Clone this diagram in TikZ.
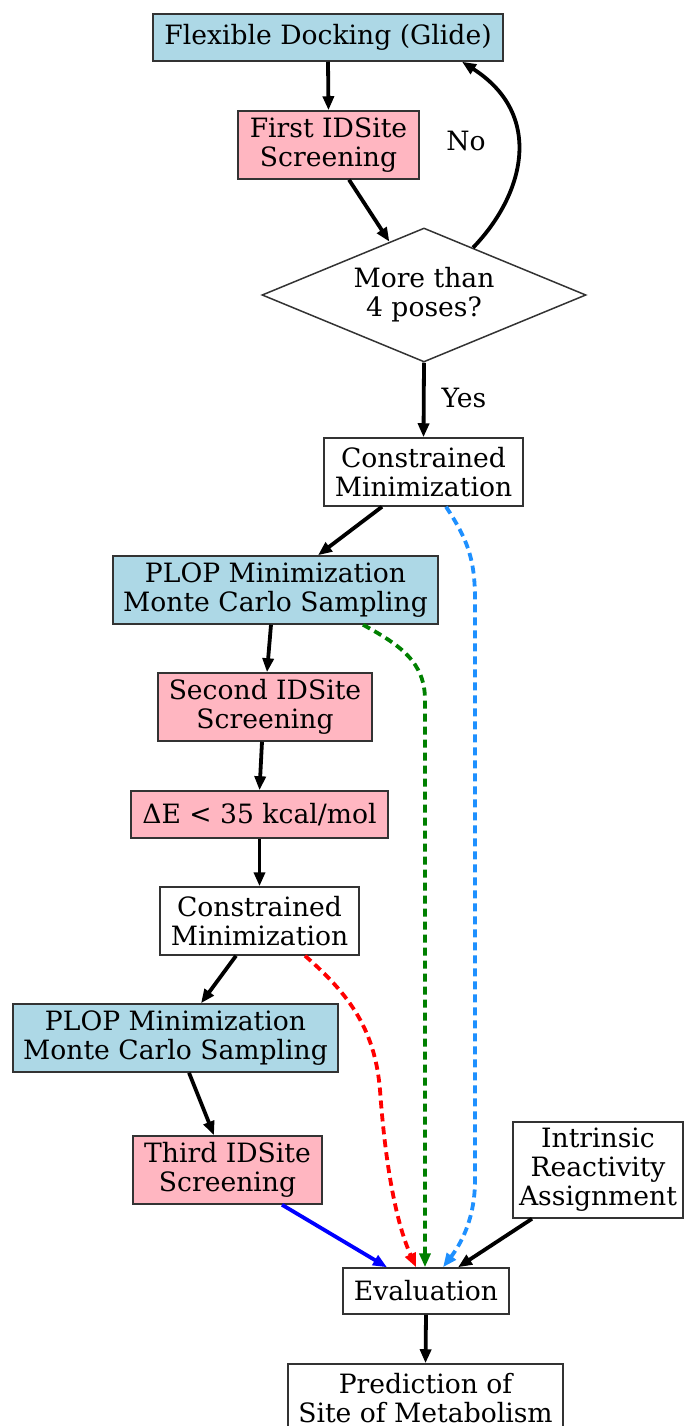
\documentclass[tikz,border=0pt]{standalone}
\usepackage{fontspec}
\setmainfont{DejaVu Serif}
\usetikzlibrary{arrows.meta,shapes.geometric}
\definecolor{boxblue}{HTML}{ADD8E6}
\definecolor{boxpink}{HTML}{FFB6C1}
\definecolor{dblue}{HTML}{1E90FF}
\definecolor{dgreen}{HTML}{008000}
\definecolor{dred}{HTML}{FF0000}
\definecolor{sblue}{HTML}{0000FF}
\definecolor{bord}{HTML}{333333}
\begin{document}
\begin{tikzpicture}[x=1pt,y=-1pt,
  every node/.style={font=\fontsize{26.6}{29}\selectfont, align=center, inner sep=0pt},
  box/.style={draw=bord, line width=1.5pt, rectangle},
  bluebox/.style={box, fill=boxblue},
  pinkbox/.style={box, fill=boxpink},
  whitebox/.style={box, fill=white},
  conn/.style={line width=3.8pt, -{Triangle[length=14pt,width=11pt]}},
  dconn/.style={conn, dash pattern=on 8pt off 5pt},
  lbl/.style={}
]
\useasboundingbox (0,0) rectangle (683,1426);
\node[bluebox, minimum width=350, minimum height=47] (flex) at (328,37.5) {Flexible Docking (Glide)};
\node[pinkbox, minimum width=181, minimum height=68] (first) at (328.5,145) {First IDSite\\Screening};
\node[diamond, draw=bord, line width=1.5pt, minimum width=324, minimum height=134, aspect=2.4] (dia) at (424,295) {More than\\4 poses?};
\node[whitebox, minimum width=199, minimum height=68] (cm1) at (423.5,472) {Constrained\\Minimization};
\node[bluebox, minimum width=325, minimum height=68] (plop1) at (275.5,590) {PLOP Minimization\\Monte Carlo Sampling};
\node[pinkbox, minimum width=214, minimum height=68] (second) at (265,707) {Second IDSite\\Screening};
\node[pinkbox, minimum width=257, minimum height=47] (de) at (259.5,814.5) {ΔE < 35 kcal/mol};
\node[whitebox, minimum width=199, minimum height=68] (cm2) at (259.5,921) {Constrained\\Minimization};
\node[bluebox, minimum width=325, minimum height=68] (plop2) at (175.5,1038) {PLOP Minimization\\Monte Carlo Sampling};
\node[pinkbox, minimum width=189, minimum height=68] (third) at (227.5,1170) {Third IDSite\\Screening};
\node[whitebox, minimum width=170, minimum height=96] (intr) at (598,1170) {Intrinsic\\Reactivity\\Assignment};
\node[whitebox, minimum width=166, minimum height=46] (eval) at (426,1291) {Evaluation};
\node[whitebox, minimum width=275, minimum height=68] (pred) at (425.5,1398) {Prediction of\\Site of Metabolism};
\node[lbl] (no) at (466,141) {No};
\node[lbl] (yes) at (464,398) {Yes};

\draw[conn] (flex.south) -- (first.north);
\draw[conn] ([xshift=20.5pt]first.south) -- (dia.123.7);
\draw[conn] (dia.44.4) .. controls (524,195) and (545,115) .. ([xshift=134pt]flex.south);
\draw[conn] (dia.south) -- (cm1.north);
\draw[conn] ([xshift=-41.5pt]cm1.south) -- ([xshift=42.5pt]plop1.north);
\draw[conn] ([xshift=-4.5pt]plop1.south) -- ([xshift=2pt]second.north);
\draw[conn] ([xshift=-3pt]second.south) -- (de.north);
\draw[conn] (de.south) -- (cm2.north);
\draw[conn] ([xshift=-23.5pt]cm2.south) -- ([xshift=25.5pt]plop2.north);
\draw[conn] ([xshift=13.5pt]plop2.south) -- ([xshift=-13.5pt]third.north);
\draw[conn, sblue] ([xshift=54.5pt]third.south) -- ([xshift=-39pt]eval.north);
\draw[conn] ([xshift=-66pt]intr.south) -- ([xshift=32pt]eval.north);
\draw[conn] (eval.south) -- (pred.north);
\draw[dconn, dblue] ([xshift=22.5pt]cm1.south) .. controls (468,540) and (475,560) .. (475,600) -- (475,1180) .. controls (475,1220) and (460,1245) .. ([xshift=17pt]eval.north);
\draw[dconn, dgreen] ([xshift=87.5pt]plop1.south) .. controls (400,645) and (425,662) .. (425,700) -- ([xshift=-1pt]eval.north);
\draw[dconn, dred] ([xshift=45.5pt]cm2.south) .. controls (350,995) and (375,1030) .. (380,1090) .. controls (385,1160) and (395,1220) .. ([xshift=-10pt]eval.north);
\end{tikzpicture}
\end{document}
